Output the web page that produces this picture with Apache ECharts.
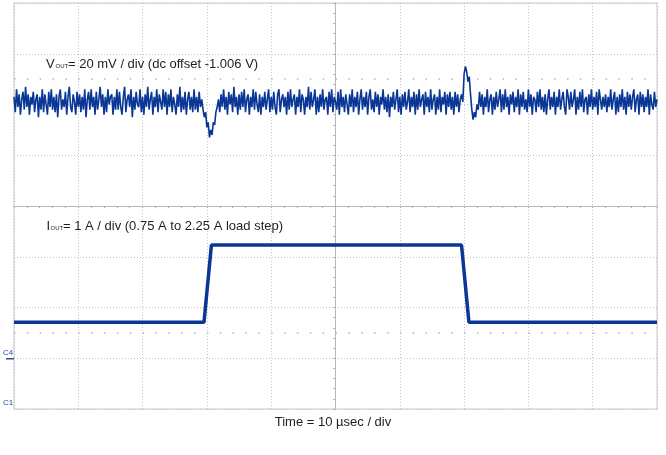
<!DOCTYPE html>
<html><head><meta charset="utf-8">
<script src="https://cdn.jsdelivr.net/npm/echarts@6/dist/echarts.min.js"></script>
<style>html,body{margin:0;padding:0;background:#fff}#c{width:666px;height:455px}</style>
</head><body><div id="c"></div>
<script>
// ---- Data ----
// Vout deviation (mV) sampled every 0.2 µs, 0..100 µs (20 mV/div)
const vSampleStep = 0.2;
const vOut = [
 2,-4,5,-2,3,-5,1,4,-3,6,-2,3,-5,2,-1,4,-4,1,3,-6,
 2,-3,5,-4,3,-1,-5,4,-2,5,-3,2,-4,3,-6,2,5,-3,1,-2,
 4,-5,2,6,-2,-4,3,0,-5,4,-2,3,-4,2,-3,5,-6,1,4,-3,
 5,-2,2,-5,4,-3,1,6,-2,3,-5,2,-4,5,-1,2,3,-5,2,-3,
 5,-3,4,-2,-5,2,6,-4,1,3,-2,5,-6,2,-3,4,-1,-2,5,-4,
 2,-5,3,-2,6,-3,1,4,-5,2,-2,5,-4,3,0,-3,5,-2,4,-5,
 3,-2,5,-4,2,-1,-5,3,-2,6,-4,2,-3,4,-5,1,4,-3,2,-4,
 5,-3,2,-4,4,-2,1,-3,-6,-4,-10,-8,-14,-11,-13,-8,-9,-4,-2,1,
 -4,3,-2,5,-3,2,-5,4,-1,3,-4,6,-2,2,-5,3,-3,4,-2,5,
 -4,1,3,-5,2,-2,5,-3,4,-1,-4,3,-5,2,-2,4,-3,1,5,-4,
 2,-3,4,-2,-5,3,5,-4,1,3,-2,2,-5,4,-3,5,-2,1,3,-5,
 2,-2,5,-4,3,1,-5,2,-2,6,-3,4,-2,1,5,-5,2,-4,3,-2,
 5,-3,1,2,-5,4,-2,5,-4,2,0,-3,4,-5,5,-2,2,-4,3,-1,
 -5,3,-2,5,-4,2,-2,4,-5,1,5,-3,2,-2,4,-5,2,5,-3,1,
 -4,4,-2,3,-5,2,-1,5,-3,2,-4,3,-6,2,-2,4,-3,1,5,-4,
 2,-5,3,-2,4,-3,0,5,-4,2,-2,4,-5,3,-3,5,-2,1,3,-5,
 4,-2,2,-4,5,-3,1,3,-5,2,-3,5,-4,2,-1,4,-5,3,-2,4,
 -3,2,-5,4,-2,3,-4,1,3,0,11,14,12,8,10,3,-3,-7,-4,-6,
 -1,-3,4,-2,3,-5,2,-2,5,-4,1,3,-5,2,-3,4,-2,1,5,-4,
 3,-3,5,-2,2,-5,3,-1,4,-4,2,-2,5,-5,3,-2,4,-3,1,-4,
 5,-2,3,-5,2,1,-4,4,-2,5,-3,2,-4,3,-5,1,5,-3,2,-2,
 4,-5,2,-2,5,-3,1,4,-2,-5,5,2,-3,4,-2,1,5,-5,2,-3,
 4,-2,5,-4,1,2,-5,3,-2,5,-3,2,-2,4,-5,5,1,-3,2,-2,
 3,-4,2,-2,5,-3,1,4,-5,2,-4,3,-2,5,-3,2,-5,4,-2,3,
 -3,2,5,-4,1,3,-5,4,-2,3,-4,2,-2,5,-5,3,-1,-3,4,-2,
 1
];
// Iout load step (A), 1 A/div
const iTimes = [0, 29.55, 30.7, 69.6, 70.75, 100];   // µs
const iAmps  = [0.71, 0.71, 2.23, 2.23, 0.71, 0.71];  // A

// ---- Chart ----
const FONT = '"Liberation Sans", Arial, sans-serif';
const GRID = '#c4c4c4';
const TRACE = '#0a3796';
const TXT = '#1e1e1e';
const chart = echarts.init(document.getElementById('c'), null, {renderer: 'canvas'});

const divAxisCommon = {type: 'value', axisLabel: {show: false}};
const tickStyle = {color: '#b0b0b0'};

chart.setOption({
  animation: false,
  backgroundColor: '#fff',
  grid: {left: 14, top: 3, width: 643, height: 406, show: true, borderColor: '#c8c8c8', borderWidth: 1, containLabel: false},
  xAxis: [
    Object.assign({}, divAxisCommon, {min: -5, max: 5, interval: 1,
      axisLine: {show: true, onZero: true, onZeroAxisIndex: 0, lineStyle: {color: '#b8b8b8', width: 1}},
      axisTick: {show: true, length: 2, inside: false, lineStyle: tickStyle},
      minorTick: {show: true, splitNumber: 5, length: 2, lineStyle: tickStyle},
      splitLine: {show: true, lineStyle: {color: GRID, type: [1, 2], width: 1}}}),
    {type: 'value', min: 0, max: 100, show: false},
    Object.assign({}, divAxisCommon, {min: -5, max: 5, interval: 1,
      axisLine: {show: false, onZero: true, onZeroAxisIndex: 0},
      axisTick: {show: true, length: 2, inside: true, lineStyle: tickStyle},
      minorTick: {show: true, splitNumber: 5, length: 2, lineStyle: tickStyle},
      splitLine: {show: false}})
  ],
  yAxis: [
    Object.assign({}, divAxisCommon, {min: -4, max: 4, interval: 1,
      axisLine: {show: true, onZero: true, onZeroAxisIndex: 0, lineStyle: {color: '#b8b8b8', width: 1}},
      axisTick: {show: true, length: 2, inside: false, lineStyle: tickStyle},
      minorTick: {show: true, splitNumber: 5, length: 2, lineStyle: tickStyle},
      splitLine: {show: true, lineStyle: {color: GRID, type: [1, 2], width: 1}}}),
    {type: 'value', min: -121, max: 39, show: false},
    {type: 'value', min: -1, max: 7, show: false},
    Object.assign({}, divAxisCommon, {min: -4, max: 4, interval: 1,
      axisLine: {show: false, onZero: true, onZeroAxisIndex: 0},
      axisTick: {show: true, length: 2, inside: true, lineStyle: tickStyle},
      minorTick: {show: true, splitNumber: 5, length: 2, lineStyle: tickStyle},
      splitLine: {show: false}})
  ],
  series: [
    {
      type: 'line', xAxisIndex: 0, yAxisIndex: 0, data: [], silent: true,
      markLine: {
        symbol: 'none', silent: true, label: {show: false},
        lineStyle: {color: '#b4b4b4', width: 1.5, type: [1.5, 11.36], dashOffset: 0},
        data: [
          [{coord: [-5, 2.5]}, {coord: [5, 2.5]}],
          [{coord: [-5, -2.5]}, {coord: [5, -2.5]}]
        ]
      }
    },
    {
      type: 'line', xAxisIndex: 1, yAxisIndex: 1, showSymbol: false, symbol: 'none',
      data: vOut.map((v, i) => [i * vSampleStep, v]),
      lineStyle: {color: TRACE, width: 1.6}, z: 5
    },
    {
      type: 'line', xAxisIndex: 1, yAxisIndex: 2, showSymbol: false, symbol: 'none',
      data: iTimes.map((t, i) => [t, iAmps[i]]),
      lineStyle: {color: TRACE, width: 3.5}, z: 5
    }
  ],
  graphic: [
    {type: 'text', x: 46, y: 58, z: 10, style: {text: 'V', fontSize: 13, fontFamily: FONT, fill: TXT}},
    {type: 'text', x: 55.5, y: 63.5, z: 10, style: {text: 'OUT', fontSize: 6, fontFamily: FONT, fill: TXT}},
    {type: 'text', x: 68, y: 58, z: 10, style: {text: '= 20 mV / div (dc offset -1.006 V)', fontSize: 13, fontFamily: FONT, fill: TXT}},
    {type: 'text', x: 46.5, y: 220, z: 10, style: {text: 'I', fontSize: 13, fontFamily: FONT, fill: TXT}},
    {type: 'text', x: 50.5, y: 225.5, z: 10, style: {text: 'OUT', fontSize: 6, fontFamily: FONT, fill: TXT}},
    {type: 'text', x: 63, y: 220, z: 10, style: {text: '= 1 A / div (0.75 A to 2.25 A load step)', fontSize: 13, fontFamily: FONT, fill: TXT}},
    {type: 'text', left: 'center', top: 416, z: 10, style: {text: 'Time = 10 µsec / div', fontSize: 13, fontFamily: FONT, fill: TXT}},
    {type: 'text', x: 3, y: 349, z: 10, style: {text: 'C4', fontSize: 8, fontFamily: FONT, fill: '#2a4da0'}},
    {type: 'rect', shape: {x: 6, y: 358, width: 8, height: 1.5}, style: {fill: '#2a4da0'}, z: 10},
    {type: 'text', x: 3, y: 399, z: 10, style: {text: 'C1', fontSize: 8, fontFamily: FONT, fill: '#2a4da0'}}
  ]
});
</script></body></html>
